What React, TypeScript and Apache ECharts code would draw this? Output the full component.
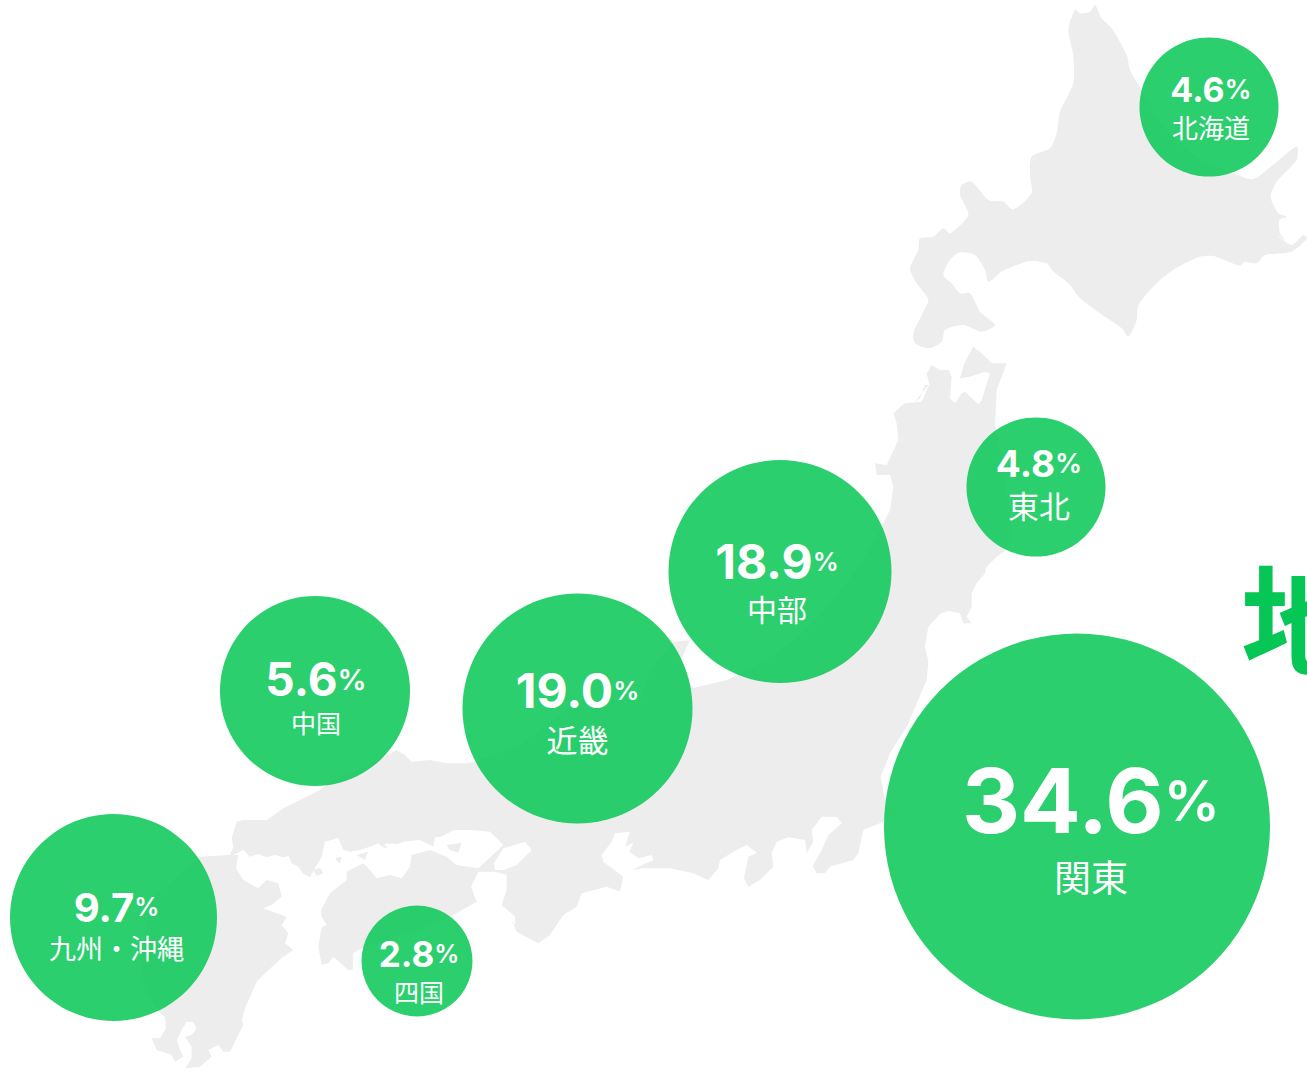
import React, { useEffect, useRef } from "react";
import * as echarts from "echarts";

// ---- chart data ----
const regions = ["北海道", "東北", "中部", "近畿", "中国", "関東", "九州・沖縄", "四国"];
const shares = [4.6, 4.8, 18.9, 19.0, 5.6, 34.6, 9.7, 2.8];
const bubbleX = [1209, 1036, 780, 577.5, 315, 1077, 113.5, 417];
const bubbleY = [107, 487, 571.5, 708.5, 691, 826.5, 917.5, 961];
const bubbleDiameter = [139, 139, 223, 230, 190, 386, 207, 111];

// ---- per-bubble text layout: [offsetX, offsetY, number size, % size, name size] ----
const textLayout = [
  [2, 0, 34, 27, 26],
  [3, -3, 37, 27, 31],
  [-3, 10, 48, 26, 30],
  [0, 3, 48, 26, 31],
  [1, 5, 46, 29, 25],
  [14, -1, 90, 56, 37],
  [3, 8, 40, 25, 27],
  [2, 10, 35, 25, 25],
];

const W = 1307;
const H = 1074;
const GREEN = "#06c755";
const BUBBLE = "rgba(6,199,85,0.85)";
const MAP_GRAY = "#ededed";
const NUM_FONT = "Inter";
const CJK_FONT = "'Noto Sans CJK JP'";

// ---- map outline ----
type P = number[];
const real = (p: P[]) => p;
const z3 = (p: P[]) => p.map(([x, y]) => [620 + x / 3, 340 + y / 3]);
const z4 = (p: P[]) => p.map(([x, y]) => [x / 3, 740 + y / 3]);
const z5 = (p: P[]) => p.map(([x, y]) => [460 + x / 3, 660 + y / 3]);
const z6 = (p: P[]) => p.map(([x, y]) => [900 + x / 3, 335 + y / 3]);
const z7 = (p: P[]) => p.map(([x, y]) => [200 + x / 3, 800 + y / 3]);
const z8 = (p: P[]) => p.map(([x, y]) => [370 + x / 3, 800 + y / 3]);
const z9 = (p: P[]) => p.map(([x, y]) => [130 + x / 3, 960 + y / 3]);
const z1 = (p: P[]) => p.map(([x, y]) => [880 + x / 3, y / 3]);

const hokkaido = z1([
  [645, 15], [665, 55], [695, 85], [740, 165], [750, 210], [785, 270], [850, 380], [950, 470], [1060, 520], [1120, 537],
  [1190, 485], [1250, 440], [1250, 480], [1190, 545], [1172, 590], [1195, 640], [1220, 650], [1198, 660], [1200, 700], [1215, 720],
  [1190, 705], [1235, 735], [1270, 705], [1281, 715], [1235, 755], [1155, 765], [1130, 790], [1095, 785], [1080, 797],
  [1000, 768], [960, 770], [895, 800], [840, 840], [775, 915], [770, 960], [745, 1010], [725, 985], [660, 940],
  [600, 895], [565, 850], [520, 815], [500, 790], [450, 783], [410, 795], [365, 815], [325, 845], [315, 810],
  [285, 765], [240, 757], [210, 780], [190, 825], [215, 850], [240, 880], [270, 880], [300, 935], [345, 975],
  [305, 995], [250, 975], [195, 990], [185, 1025], [145, 1045], [105, 1030], [100, 1000], [125, 945], [145, 900],
  [110, 850], [90, 805], [115, 750], [120, 715], [160, 710], [190, 685], [210, 700], [265, 645], [240, 585],
  [245, 555], [275, 545], [325, 600], [370, 605], [400, 628], [455, 580], [450, 530], [455, 470], [510, 445],
  [530, 400], [540, 335], [580, 250], [580, 165], [565, 90], [585, 30], [600, 40], [630, 35],
]);

const mainland = [
  ...z6([
    [0, 215], [15, 205], [35, 208], [60, 190], [75, 150], [88, 150], [80, 115], [95, 90], [120, 105], [145, 105], [155, 125],
    [150, 190], [165, 205], [185, 175], [195, 170], [235, 208], [245, 195], [270, 115], [255, 110], [210, 125],
    [180, 130], [195, 80], [220, 35], [245, 55], [275, 85], [320, 85], [290, 165], [285, 270],
  ]),
  ...real([[1000, 450], [1010, 510], [1012, 540]]),
  ...z3([
    [1165, 625], [1130, 650], [1100, 680], [1095, 700], [1070, 730], [1055, 760], [1055, 800], [1040, 830], [1055, 850],
    [1030, 850], [1020, 820], [985, 812], [960, 822], [925, 860], [915, 920], [925, 965], [920, 1020],
  ]),
  ...z5([
    [1340, 200], [1290, 280], [1262, 350], [1275, 420], [1290, 450], [1270, 485], [1210, 510], [1195, 580], [1180, 600],
    [1110, 620], [1095, 640], [1070, 640], [1058, 618], [1085, 570], [1105, 525], [1145, 490], [1130, 470], [1085, 470],
    [1055, 510], [1060, 545], [1040, 580], [1035, 540], [985, 532], [950, 545], [935, 580], [940, 620], [900, 660],
    [865, 680], [852, 655], [865, 590], [890, 578], [860, 555], [820, 575], [780, 600], [775, 625], [745, 660],
    [700, 640], [630, 625], [550, 625], [515, 630], [580, 600], [575, 585], [535, 595], [508, 575], [520, 548],
    [495, 560], [510, 515], [465, 520], [455, 545], [425, 585], [430, 605], [490, 650], [480, 695], [440, 680],
    [365, 700], [350, 740], [310, 765], [270, 825], [235, 850], [170, 815], [155, 780],
  ]),
  ...z8([
    [435, 375], [435, 350], [395, 315], [410, 270], [410, 225], [375, 215], [325, 215], [303, 260], [320, 305], [250, 345],
  ]),
  ...real([[420, 930], [370, 945]]),
  ...z4([
    [1085, 625], [1060, 640], [1058, 690], [1045, 690], [1000, 650], [985, 670], [965, 675], [955, 620],
  ]),
  ...z7([
    [365, 381], [380, 375], [365, 350], [360, 315], [270, 335], [245, 375], [265, 400], [255, 430], [280, 450], [250, 470],
  ]),
  ...z9([
    [405, 40], [380, 65], [345, 145], [335, 180], [340, 195], [320, 235], [300, 275], [280, 275], [265, 255], [235, 270],
    [245, 290], [210, 320], [165, 325], [155, 342], [185, 295], [185, 260], [165, 230], [185, 225], [200, 205], [190, 185],
    [170, 185], [155, 210], [140, 240], [150, 270], [160, 290], [135, 305], [125, 285], [80, 270], [65, 235], [90, 235],
    [108, 205], [105, 170], [85, 155],
  ]),
  ...real([[140, 980], [150, 900]]),
  ...z4([
    [600, 350], [690, 345], [700, 320], [695, 295], [710, 245], [730, 240], [800, 240], [850, 205], [960, 150], [1000, 120],
  ]),
  ...real([[360, 770]]),
  ...z4([
    [1190, 30], [1215, 45], [1235, 65], [1290, 60], [1340, 70], [1400, 70],
  ]),
  ...real([[473, 762], [520, 745], [580, 700], [640, 700], [650, 670], [673, 642], [690, 640], [681, 660], [688, 680], [693, 688],
    [727, 680], [767, 660], [800, 635], [833, 600], [860, 565], [880, 530]]),
  ...z3([
    [810, 510], [820, 440], [810, 405], [770, 405], [765, 370], [800, 375], [835, 300], [830, 250], [820, 220], [855, 190], [905, 185], [930, 130], [935, 70],
  ]).slice(0, 12),
  ...z6([[20, 230], [0, 240]]),
];

// Seto Inland Sea and the bays of the Kansai coast, painted as white water
const seto = [
  ...z7([
    [100, 165], [130, 150], [150, 170], [175, 162], [200, 172], [225, 165], [250, 172], [265, 168], [275, 190], [295, 200], [310, 222], [330, 232], [345, 205], [365, 170],
    [375, 125], [395, 120], [415, 115], [430, 150], [450, 155], [480, 150], [505, 142], [540, 135], [555, 145], [575, 130], [600, 135],
  ]),
  ...z8([
    [0, 140], [25, 130], [35, 142], [50, 130], [75, 135], [100, 125], [150, 120], [190, 140], [195, 112], [215, 110], [250, 90], [300, 90], [360, 95],
    [400, 135], [325, 205], [260, 195], [230, 170], [180, 150], [125, 165], [120, 200], [95, 235], [60, 225], [20, 235], [0, 210],
  ]),
  ...z7([
    [490, 190], [440, 215], [440, 240], [390, 280], [360, 335], [320, 338], [270, 355], [190, 325], [215, 315], [245, 290],
    [235, 250], [200, 240], [175, 265], [130, 240], [108, 205], [115, 165],
  ]),
];
const osakaBay = z8([[375, 210], [372, 190], [400, 145], [465, 125], [485, 150], [440, 195], [400, 210]]);
const setoIslands = [
  z7([[340, 210], [360, 203], [370, 220], [350, 228]]),
  z7([[405, 175], [425, 170], [420, 192]]),
  z8([[230, 135], [275, 128], [265, 158], [240, 150]]),
  z7([[470, 165], [505, 155], [495, 180]]),
];

const polygon = (pts: P[], fill: string, smooth = 0) => ({
  type: "polygon",
  silent: true,
  shape: { points: pts, smooth },
  style: { fill },
});

// ---- build options ----
const bubbleData = regions.map((name, i) => {
  const [ox, oy, numSize, pctSize, nameSize] = textLayout[i];
  return {
    name,
    value: [bubbleX[i], bubbleY[i], shares[i]],
    symbolSize: bubbleDiameter[i],
    label: {
      show: true,
      position: "inside",
      offset: [ox, oy],
      align: "center",
      verticalAlign: "middle",
      opacity: 1,
      formatter: `{n|${shares[i].toFixed(1)}}{p|%}\n{t|${name}}`,
      rich: {
        n: { fontFamily: NUM_FONT, fontWeight: 700, fontSize: numSize, color: "#fff", lineHeight: numSize * 1.12 },
        p: { fontFamily: NUM_FONT, fontWeight: 600, fontSize: pctSize, color: "#fff", lineHeight: numSize * 1.12 },
        t: { fontFamily: CJK_FONT, fontWeight: 400, fontSize: nameSize, color: "#fff", lineHeight: nameSize * 1.35 },
      },
    },
  };
});

export default function App() {
  const ref = useRef<HTMLDivElement>(null);
  useEffect(() => {
    document.body.style.margin = "0";
    document.documentElement.style.overflow = "hidden";
    if (!ref.current) return;
    const chart = echarts.init(ref.current, undefined, { renderer: "svg" });
    chart.setOption({
      animation: false,
      backgroundColor: "#ffffff",
      grid: { left: 0, right: 0, top: 0, bottom: 0 },
      xAxis: { type: "value", min: 0, max: W, show: false },
      yAxis: { type: "value", min: 0, max: H, inverse: true, show: false },
      graphic: {
        elements: [
          {
            type: "group",
            z: -10,
            silent: true,
            children: [
              polygon(hokkaido, MAP_GRAY, 0.25),
              polygon(mainland, MAP_GRAY),
              polygon(seto, "#ffffff"),
              polygon(osakaBay, "#ffffff"),
              ...setoIslands.map((p) => polygon(p, MAP_GRAY)),
            ],
          },
          {
            type: "text",
            x: 1241,
            y: 555,
            z: 1,
            style: {
              text: "地",
              fill: GREEN,
              font: `700 120px ${CJK_FONT}`,
            },
          },
        ],
      },
      series: [
        {
          type: "scatter",
          symbol: "circle",
          itemStyle: { color: BUBBLE, opacity: 1 },
          data: bubbleData,
          clip: false,
          z: 5,
        },
      ],
    });
    return () => chart.dispose();
  }, []);
  return <div ref={ref} style={{ width: W, height: H }} />;
}
